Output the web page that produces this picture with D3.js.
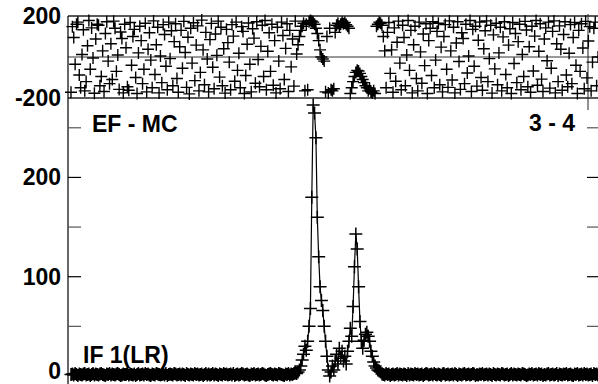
<!DOCTYPE html>
<html><head><meta charset="utf-8">
<script src="https://cdn.jsdelivr.net/npm/d3@7"></script>
<style>
html,body{margin:0;padding:0;background:#fff;overflow:hidden}
text{font-family:"Liberation Sans",Arial,sans-serif;font-weight:bold;fill:#000}
</style></head>
<body>
<svg id="chart" width="598" height="384"></svg>
<script>
// ---- data (384 channels) ----
const ampBaseLeft = [
1.5,2,1,2.5,1.5,0.5,2,1.5,1,2, 2.5,1,1.5,2,0.5,1.5,2.5,1,2,1.5,
1,2,2.5,1.5,1,0.5,2,1.5,2.5,1, 2,1.5,1,2,2.5,1.5,0.5,1,2,1.5,
1.5,2.5,1,2,1.5,1,2,0.5,1.5,2.5, 1,1.5,2,1,2.5,1.5,2,1,0.5,2,
1.5,1,2.5,2,1.5,1,1.5,2,1,2.5, 0.5,1.5,2,1.5,1,2.5,2,1,1.5,2,
1,2,1.5,0.5,2.5,1.5,1,2,1.5,1, 2.5,1.5,2,1,1.5,2,0.5,1.5,2.5,1,
2,1,1.5,2.5,1,2,1.5,0.5,2,1.5, 1,2.5,1.5,2,1,1.5,2,1,2.5,0.5,
1.5,2,1,1.5,2.5,2,1,1.5,2,1, 0.5,2,1.5,2.5,1,1.5,2,1,1.5,2.5,
2,1,0.5,1.5,2,2.5,1.5,1,2,1.5, 1,2.5,2,1.5,1,0.5,2,1.5,2.5,1,
2,1.5,2.5,3,2.5
];
const ampLines = [
4,6,10,16,22,30,26,35,50,68,
180,273,265,240,160,120,90,76,66,50,
35,20,6,0,4,10,6,15,22,12,
28,18,25,15,20,12,25,35,48,40,
70,110,143,128,90,55,35,28,36,42,
44,40,35,25,20,14,10,8,6,5,
4
];
const ampBaseRight = [
2,1.5,1,2.5,1.5,2,0.5,1.5,2,1, 1.5,2.5,1,2,1.5,1,2,1.5,0.5,2.5,
1,2,1.5,1,2.5,1.5,2,1,1.5,2, 0.5,1.5,2.5,2,1,1.5,2,1,2.5,1.5,
1,2,1.5,0.5,2,2.5,1,1.5,2,1, 1.5,2,1,2.5,1.5,0.5,2,1.5,1,2,
2.5,1,1.5,2,1,1.5,2.5,2,0.5,1.5, 1,2,1.5,2.5,1,1.5,2,1,2,1.5,
0.5,2.5,1.5,1,2,1.5,1,2.5,2,1, 1.5,2,0.5,1.5,2.5,1,2,1.5,1,2,
1.5,1,2.5,2,1.5,0.5,1,2,1.5,2.5, 1,1.5,2,1,2.5,1.5,2,0.5,1.5,1,
2,2.5,1,1.5,2,1,1.5,2.5,0.5,2, 1.5,1,2,1.5,2.5,1,1.5,2,1,0.5,
2,1.5,2.5,1,1.5,2,1,2.5,1.5,2, 1,1.5,2,0.5,2.5,1.5,2,1
];
const phaseLeft = [
-172,148,95,-35,160,170,-88,-150,12,133,
-165,-120,55,178,-60,142,-5,-177,88,160,
155,-140,-95,30,-168,115,172,-20,-130,65,
-110,175,140,-70,10,-158,122,90,-175,160,
45,-145,-162,168,-40,100,135,-100,-178,20,
150,80,-130,-60,165,-170,38,118,-15,-150,
176,-85,60,145,-175,5,-125,158,110,-45,
-160,170,-8,128,-140,75,162,-105,-172,50,
130,-55,174,22,-148,96,-180,140,-30,167,
-115,58,152,-165,-75,180,35,-135,120,-10,
-170,85,164,-50,-155,112,8,175,-98,145,
-140,40,-176,135,70,-25,-160,158,102,-118,
170,-65,18,-150,148,125,-178,-90,62,166,
-35,-170,138,92,-128,172,-12,-145,52,155,
-95,178,-160,28,118,-70,160,-138,80,-175,
145,-20,-155,170,105,-110,42,162,-168,130,
-48,88,-142,175,15
];
const phaseLines = [
60,100,130,150,165,-165,160,-160,172,178,
175,170,160,140,115,80,35,0,-10,-20,
-170,100,-175,140,-160,-165,-155,120,155,165,
150,160,170,162,168,158,150,140,-178,-150,
-120,-95,-75,-65,-68,-80,-95,-110,-125,-140,
-150,-165,-155,-170,-175,-165,-178,150,160,170,
165,155,100,30
];
const phaseRight = [
-150,120,168,-80,35,-172,142,-118,72,175,
-30,-160,155,95,-140,10,178,-65,130,-175,
60,150,-105,-165,170,25,-128,112,-42,162,
-178,80,140,-90,172,-150,-15,125,165,-135,
48,-170,100,158,-60,-148,176,30,-112,145,
-175,68,172,-22,-158,118,90,-130,160,-78,
5,178,-168,135,-45,150,-142,82,170,-100,
-162,40,128,176,-120,-8,155,-176,108,-58,
165,-135,20,145,-165,98,172,-85,-150,58,
138,-178,168,-32,115,-125,75,160,-160,12,
-95,174,132,-145,50,-172,150,-68,102,178,
-138,28,162,-108,-168,88,142,-18,170,-152,
-55,125,176,-175,65,-120,152,38,-162,110,
172,-88,-145,18,158,-130,95,168,-40,-178,
130,-70,162,44,-155,174,-102,78,148,-165,
-25,140,170,-140,0
];
const amplitude = ampBaseLeft.concat(ampLines, ampBaseRight);
const phase = phaseLeft.concat(phaseLines, phaseRight);
const phaseTicks = [200, -200];
const ampTicks = [0, 100, 200];
const ampMinorTicks = [50, 150, 250];
const leftLabel = "EF - MC";
const rightLabel = "3 - 4";
const bottomLabel = "IF 1(LR)";

// ---- layout ----
const svg = d3.select("#chart");
const L = 68, R = 600;
const n = Math.min(amplitude.length, phase.length);
const channels = d3.range(n);
const x = d3.scaleLinear().domain([0, n - 1]).range([71, 598]);
const yP = d3.scaleLinear().domain([-200, 200]).range([98, 16]);
const yA = d3.scaleLinear().domain([0, 280]).range([376, 98]);

const cross = (cx, cy, s) => `M${cx - s},${cy}H${cx + s}M${cx},${cy - s}V${cy + s}`;

const g = svg.append("g");
[200, 0, -200].forEach(v => {
  g.append("line").attr("x1", L).attr("x2", R).attr("y1", yP(v)).attr("y2", yP(v))
    .attr("stroke", v === 0 ? "#333" : "#222").attr("stroke-width", v === 0 ? 1 : 1.5);
});
g.append("line").attr("x1", L).attr("x2", L).attr("y1", yP(200)).attr("y2", 384)
  .attr("stroke", "#000").attr("stroke-width", 1.2);
g.append("line").attr("x1", 588).attr("x2", 588).attr("y1", 14).attr("y2", 110)
  .attr("stroke", "#222").attr("stroke-width", 1);

const allTicks = ampTicks.filter(t => t > 0).concat(ampMinorTicks);
allTicks.forEach(t => {
  const minor = ampMinorTicks.includes(t);
  g.append("line").attr("x1", L).attr("x2", L + 13).attr("y1", yA(t)).attr("y2", yA(t))
    .attr("stroke", minor ? "#555" : "#000").attr("stroke-width", 1.2);
  g.append("line").attr("x1", 587).attr("x2", 600).attr("y1", yA(t)).attr("y2", yA(t))
    .attr("stroke", minor ? "#555" : "#000").attr("stroke-width", 1.2);
});

// phase points
svg.append("path")
  .attr("d", channels.map(i => cross(x(i), yP(phase[i]), 6)).join(""))
  .attr("stroke", "#000").attr("stroke-width", 1.4).attr("fill", "none");

// amplitude line + points
svg.append("path").datum(channels)
  .attr("d", d3.line().x(i => x(i)).y(i => yA(amplitude[i])))
  .attr("stroke", "#000").attr("stroke-width", 1.2).attr("fill", "none");
svg.append("path")
  .attr("d", channels.map(i => cross(x(i), yA(amplitude[i]), 6.5)).join(""))
  .attr("stroke", "#000").attr("stroke-width", 1.5).attr("fill", "none");

// tick labels
const fs = 23;
phaseTicks.forEach(t => {
  svg.append("text").attr("x", 61).attr("y", yP(t) + 8).attr("text-anchor", "end")
    .attr("font-size", fs).text(t);
});
ampTicks.forEach(t => {
  svg.append("text").attr("x", 61).attr("y", Math.min(yA(t) + 8, 379)).attr("text-anchor", "end")
    .attr("font-size", fs).text(t);
});

svg.append("text").attr("x", 92).attr("y", 132).attr("font-size", fs).text(leftLabel);
svg.append("text").attr("x", 575).attr("y", 131).attr("text-anchor", "end").attr("font-size", fs).text(rightLabel);
svg.append("text").attr("x", 83).attr("y", 363).attr("font-size", fs).text(bottomLabel);
</script>
</body></html>
